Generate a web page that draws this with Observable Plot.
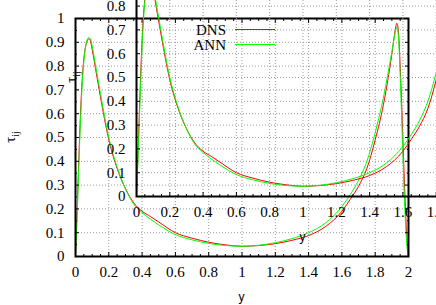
<!DOCTYPE html>
<html><head><meta charset="utf-8">
<script src="https://cdn.jsdelivr.net/npm/d3@7"></script>
<script src="https://cdn.jsdelivr.net/npm/@observablehq/plot@0.6"></script>
<style>
body{margin:0;background:#fff}
#wrap{position:relative;width:436px;height:305px;overflow:hidden;background:#fff}
#wrap > svg{position:absolute}
</style></head><body><div id="wrap"></div>
<script>
// wall-normal position y
const yPos = [0, 0.01, 0.02, 0.03, 0.04, 0.05, 0.06, 0.07, 0.08, 0.09, 0.1, 0.12, 0.15, 0.2, 0.25, 0.3, 0.35, 0.4, 0.45, 0.5, 0.6, 0.7, 0.8, 0.9, 1.0, 1.1, 1.2, 1.3, 1.4, 1.5, 1.6, 1.65, 1.7, 1.75, 1.8, 1.85, 1.9, 1.92, 1.93, 1.94, 1.95, 1.96, 1.97, 1.98, 1.99, 2.0];
// tau_ij, DNS
const dns = [0, 0.2, 0.41, 0.6, 0.74, 0.83, 0.88, 0.905, 0.915, 0.905, 0.87, 0.79, 0.67, 0.49, 0.37, 0.285, 0.225, 0.19, 0.168, 0.145, 0.1, 0.077, 0.06, 0.049, 0.043, 0.046, 0.054, 0.068, 0.088, 0.125, 0.19, 0.24, 0.295, 0.37, 0.49, 0.64, 0.85, 0.95, 0.98, 0.94, 0.8, 0.62, 0.42, 0.23, 0.08, 0];
// tau_ij, ANN
const ann = [0, 0.17, 0.38, 0.57, 0.72, 0.82, 0.88, 0.91, 0.92, 0.915, 0.885, 0.805, 0.685, 0.5, 0.375, 0.285, 0.22, 0.185, 0.157, 0.133, 0.092, 0.07, 0.055, 0.046, 0.043, 0.047, 0.058, 0.075, 0.1, 0.14, 0.21, 0.26, 0.32, 0.4, 0.52, 0.67, 0.86, 0.94, 0.965, 0.92, 0.76, 0.56, 0.35, 0.17, 0.05, 0];

const seriesNames = ["DNS", "ANN"];
const seriesColors = ["#ff0000", "#00ff00"];

const xTicks = [0, 0.2, 0.4, 0.6, 0.8, 1, 1.2, 1.4, 1.6, 1.8, 2];
const xTickLabels = ["0", "0.2", "0.4", "0.6", "0.8", "1", "1.2", "1.4", "1.6", "1.8", "2"];
const yTicks = [0, 0.1, 0.2, 0.3, 0.4, 0.5, 0.6, 0.7, 0.8, 0.9, 1];
const yTickLabels = ["0", "0.1", "0.2", "0.3", "0.4", "0.5", "0.6", "0.7", "0.8", "0.9", "1"];
const xMinor = [0.05, 0.1, 0.15, 0.25, 0.3, 0.35, 0.45, 0.5, 0.55, 0.65, 0.7, 0.75, 0.85, 0.9, 0.95, 1.05, 1.1, 1.15, 1.25, 1.3, 1.35, 1.45, 1.5, 1.55, 1.65, 1.7, 1.75, 1.85, 1.9, 1.95];
const yMinor = [0.05, 0.15, 0.25, 0.35, 0.45, 0.55, 0.65, 0.75, 0.85, 0.95];

const xLabel = "y";
const yLabelMain = "τ";
const yLabelSub = "ij";

const rows = [];
yPos.forEach((p, i) => rows.push({p, v: dns[i], s: seriesNames[0]}));
yPos.forEach((p, i) => rows.push({p, v: ann[i], s: seriesNames[1]}));

const SERIF = "'Liberation Serif', 'Times New Roman', serif";
const SANS = "'Liberation Sans', Arial, sans-serif";
const M = {left: 75, right: 28, top: 18, bottom: 49};
const W = 436, H = 305;

function makePlot() {
  const fmtX = d => xTickLabels[xTicks.indexOf(d)];
  const fmtY = d => yTickLabels[yTicks.indexOf(d)];
  const grid = {stroke: "#9a9a9a", strokeOpacity: 1, strokeDasharray: "1,2", strokeWidth: 1};
  const tk = (anchor, k, data, size) => (k === "x" ? Plot.axisX : Plot.axisY)(data, {anchor, tickSize: -size, fill: "none", label: null, stroke: "#000", strokeWidth: 1});
  const svg = Plot.plot({
    width: W, height: H,
    marginLeft: M.left, marginRight: M.right, marginTop: M.top, marginBottom: M.bottom,
    style: {background: "transparent", fontFamily: SERIF, fontSize: "15px", color: "#000", overflow: "visible"},
    x: {domain: [0, 2]},
    y: {domain: [0, 1]},
    color: {domain: seriesNames, range: seriesColors},
    marks: [
      Plot.gridX(xTicks.slice(1, -1), grid),
      Plot.gridY(yTicks.slice(1, -1), grid),
      Plot.line(rows, {x: "p", y: "v", z: "s", stroke: "s", strokeWidth: 1, clip: true, curve: "monotone-x"}),
      tk("bottom", "x", xTicks, 4), tk("top", "x", xTicks, 4),
      tk("bottom", "x", xMinor, 2), tk("top", "x", xMinor, 2),
      tk("left", "y", yTicks, 4), tk("right", "y", yTicks, 4),
      tk("left", "y", yMinor, 2), tk("right", "y", yMinor, 2),
      Plot.axisX(xTicks, {anchor: "bottom", tickSize: 0, tickPadding: 10, tickFormat: fmtX, label: null, fontSize: 15}),
      Plot.axisY(yTicks, {anchor: "left", tickSize: 0, tickPadding: 11, tickFormat: fmtY, label: null, fontSize: 15}),
      Plot.frame({stroke: "#000", strokeWidth: 2})
    ]
  });
  const s = d3.select(svg);
  const cx = (M.left + W - M.right) / 2, cy = (M.top + H - M.bottom) / 2;
  s.append("text").attr("x", cx).attr("y", H - 4).attr("text-anchor", "middle")
    .attr("font-family", SANS).attr("font-size", 12).attr("fill", "#000").text(xLabel);
  const t = s.append("text").attr("transform", `translate(${M.left - 60},${cy}) rotate(-90)`)
    .attr("text-anchor", "middle").attr("font-family", SERIF).attr("font-size", 15).attr("fill", "#000");
  t.append("tspan").text(yLabelMain);
  t.append("tspan").attr("font-size", 10).attr("dy", 4).text(yLabelSub);
  return svg;
}

const wrap = document.getElementById("wrap");
const main = makePlot();
main.style.left = "0px"; main.style.top = "0px";
wrap.appendChild(main);
const inset = makePlot();
inset.style.left = "61px"; inset.style.top = "-60px";
wrap.appendChild(inset);

// legend
const leg = d3.select(wrap).append("svg").attr("width", W).attr("height", H)
  .style("left", "0px").style("top", "0px").style("position", "absolute");
seriesNames.forEach((name, i) => {
  const yy = 29.5 + i * 15;
  leg.append("text").attr("x", 226).attr("y", yy + 5).attr("text-anchor", "end")
    .attr("font-family", SERIF).attr("font-size", 15).attr("fill", "#000").text(name);
  leg.append("line").attr("x1", 235).attr("x2", 275).attr("y1", yy).attr("y2", yy)
    .attr("stroke", seriesColors[i]).attr("stroke-width", 1.2);
});
</script></body></html>
